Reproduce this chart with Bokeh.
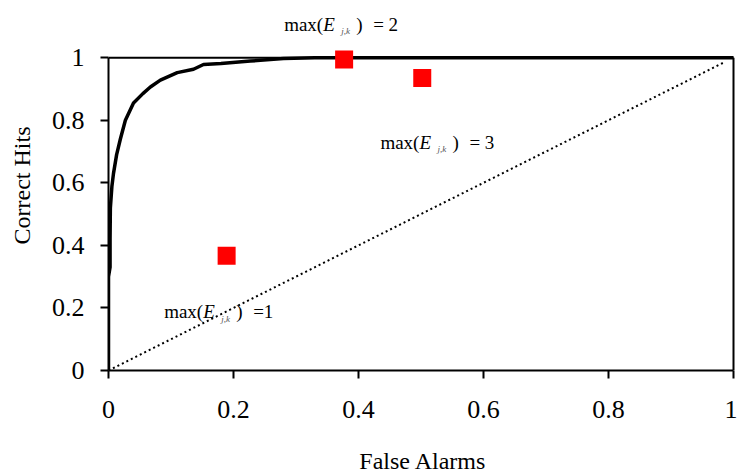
from bokeh.plotting import figure
from bokeh.models import Range1d, FixedTicker, NumeralTickFormatter, Label
from bokeh.embed import file_html
from bokeh.resources import INLINE

# ROC curve (false alarms, correct hits)
roc_fa = [0, 0, 0.0025, 0.0025, 0.003, 0.0055, 0.008, 0.013, 0.019, 0.027, 0.04,
          0.055, 0.067, 0.083, 0.11, 0.136, 0.152, 0.18, 0.227, 0.28, 0.33, 1.0]
roc_hits = [0, 0.30, 0.33, 0.42, 0.52, 0.59, 0.63, 0.69, 0.74, 0.80, 0.855,
            0.885, 0.906, 0.928, 0.952, 0.963, 0.978, 0.981, 0.989, 0.997, 1.0, 1.0]

# chance diagonal
chance_fa = [0, 0.985]
chance_hits = [0, 0.985]

# operating points for max(E_j,k) = 1, 2, 3
pts_fa = [0.189, 0.377, 0.502]
pts_hits = [0.367, 0.994, 0.935]

# labels: anchor (data), value text
lab_x = [0.089, 0.281, 0.435]
lab_y = [0.188, 1.107, 0.730]
lab_val = ["=1", "= 2", "= 3"]

ticks = [0, 0.2, 0.4, 0.6, 0.8, 1]

FONT = "Liberation Serif"

p = figure(width=737, height=476, output_backend="svg", toolbar_location=None,
           x_range=Range1d(0, 629 / 625), y_range=Range1d(0, 371 / 313.7),
           min_border_left=108, min_border_right=0, min_border_top=0,
           min_border_bottom=105)
p.outline_line_color = None
p.xgrid.visible = False
p.ygrid.visible = False
p.background_fill_color = "white"
p.border_fill_color = "white"

for ax, lab in ((p.xaxis[0], "False Alarms"), (p.yaxis[0], "Correct Hits")):
    ax.ticker = FixedTicker(ticks=ticks)
    ax.formatter = NumeralTickFormatter(format="0.[0]")
    ax.bounds = (0, 1)
    ax.axis_line_width = 2
    ax.axis_line_color = "black"
    ax.major_tick_line_width = 2
    ax.major_tick_line_color = "black"
    ax.major_tick_out = 8
    ax.major_tick_in = 0
    ax.minor_tick_line_color = None
    ax.major_label_text_font = FONT
    ax.major_label_text_font_size = "26px"
    ax.major_label_text_color = "black"
    ax.axis_label = lab
    ax.axis_label_text_font = FONT
    ax.axis_label_text_font_size = "24px"
    ax.axis_label_text_font_style = "normal"
    ax.axis_label_text_color = "black"

p.xaxis.major_label_standoff = 22
p.xaxis.axis_label_standoff = 27
p.yaxis.major_label_standoff = 16
p.yaxis.axis_label_standoff = 14
p.yaxis.major_label_orientation = "horizontal"

# frame top and right borders
p.segment(x0=[0, 1], y0=[1, 0], x1=[1, 1], y1=[1, 1], line_color="black", line_width=2)

p.line(chance_fa, chance_hits, line_color="black", line_width=2, line_dash="2 3")
p.line(roc_fa, roc_hits, line_color="black", line_width=3.5, line_join="round")
p.scatter(pts_fa, pts_hits, marker="square", size=18, fill_color="red", line_color=None)

for x, y, v in zip(lab_x, lab_y, lab_val):
    parts = [("max(", 0, 0, "19px", "normal", "black"),
             ("E", 39, 0, "19px", "italic", "black"),
             ("j,k", 57, -7, "9px", "italic", "#555555"),
             (")", 72, 0, "19px", "normal", "black"),
             (v, 89, 0, "19px", "normal", "black")]
    for txt, dx, dy, fs, st, col in parts:
        p.add_layout(Label(x=x, y=y, text=txt, x_offset=dx, y_offset=dy,
                           text_font=FONT, text_font_size=fs, text_font_style=st,
                           text_color=col, text_baseline="alphabetic"))

open("out.html", "w").write(file_html(p, INLINE))
